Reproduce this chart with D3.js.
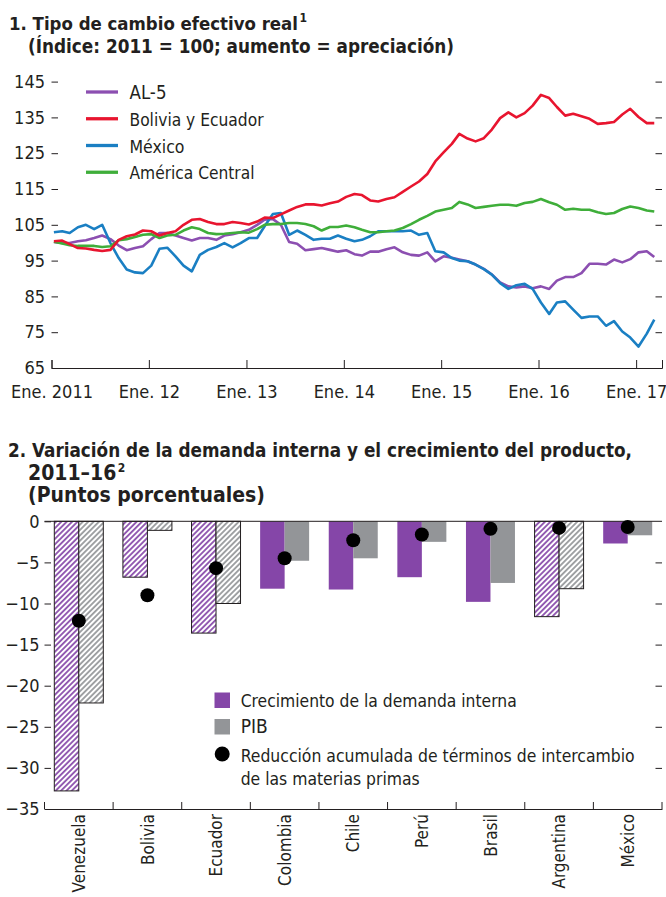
<!DOCTYPE html>
<html><head><meta charset="utf-8">
<script src="https://cdn.jsdelivr.net/npm/d3@7"></script>
<style>
body{margin:0;background:#fff}
text{font-family:'DejaVu Sans Condensed','Liberation Sans Narrow','Arial Narrow',sans-serif;fill:#231f20}
</style>
</head><body>
<svg id="c" width="666" height="897"></svg>
<script>
// ---------- Panel 1 data: monthly index, Jan 2011 – Mar 2017 ----------
const al5 = [100.2,99.9,99.9,100.4,100.7,101.3,102.0,101.0,99.2,97.9,
  98.5,99.0,101.0,102.7,102.7,102.0,101.3,100.6,101.3,101.3,
  100.8,102.0,102.4,102.9,103.6,105.0,106.4,106.6,105.0,100.2,
  99.7,97.9,98.2,98.5,98.0,97.5,97.9,96.8,96.4,97.5,
  97.5,98.2,98.7,97.3,96.6,96.4,97.3,94.8,96.2,95.8,
  95.3,94.8,93.9,92.7,91.1,88.9,87.8,87.5,87.8,87.3,
  87.8,87.1,89.4,90.4,90.4,91.5,94.1,94.1,93.9,95.3,
  94.5,95.4,97.3,97.6,96.0];
const boliviaEcuador = [100.4,100.6,99.6,98.5,98.4,98.0,97.7,98.0,100.8,101.8,
  102.3,103.4,103.2,102.0,102.7,103.2,105.0,106.4,106.6,105.8,
  105.2,105.2,105.8,105.5,105.1,105.9,107.0,106.9,107.9,109.0,
  110.0,110.7,110.7,110.4,111.0,111.5,112.8,113.6,113.3,111.8,
  111.5,112.2,112.7,114.2,115.7,117.1,119.2,122.7,125.2,127.6,
  130.4,129.1,128.3,129.2,131.6,134.8,136.4,135.0,136.2,138.3,
  141.3,140.4,137.9,135.5,136.0,135.3,134.6,133.2,133.4,133.7,
  135.8,137.4,135.1,133.4,133.4];
const mexico = [102.9,103.2,102.7,104.3,105.0,103.8,105.0,99.9,95.7,92.5,
  91.7,91.5,93.6,98.3,98.6,96.2,93.6,92.0,96.6,98.0,
  98.8,99.9,98.7,99.9,101.3,101.3,104.6,108.0,108.3,102.2,
  103.4,102.2,100.8,101.1,101.1,102.0,101.1,100.4,100.8,101.8,
  103.2,103.2,103.2,103.2,103.4,102.2,102.7,97.6,97.3,95.7,
  95.0,94.8,93.9,92.6,91.1,88.7,87.1,88.1,88.5,87.1,
  83.3,80.1,83.3,83.6,81.3,79.0,79.4,79.4,76.8,78.1,
  75.2,73.5,71.0,74.6,78.5];
const americaCentral = [100.3,99.8,99.3,99.1,99.1,99.1,98.8,99.0,100.7,101.0,
  101.6,102.2,102.4,101.3,102.0,102.2,103.4,104.3,103.8,102.7,
  102.4,102.5,102.7,102.9,102.8,103.8,105.0,105.2,105.2,105.5,
  105.5,105.2,104.6,103.4,104.4,104.4,104.8,104.3,103.6,102.9,
  102.9,103.2,103.4,104.1,105.2,106.4,107.5,108.7,109.2,109.7,
  111.4,110.7,109.7,110.0,110.3,110.6,110.6,110.3,111.1,111.4,
  112.2,111.3,110.6,109.2,109.5,109.2,109.2,108.5,108.0,108.3,
  109.4,110.1,109.7,109.0,108.7];
const seriesNames = ["AL-5","Bolivia y Ecuador","México","América Central"];
const yTicks1 = [65,75,85,95,105,115,125,135,145];
const xTickYears = [2011,2012,2013,2014,2015,2016,2017];
const xTickLabels = ["Ene. 2011","Ene. 12","Ene. 13","Ene. 14","Ene. 15","Ene. 16","Ene. 17"];

// ---------- Panel 2 data ----------
const countries = ["Venezuela","Bolivia","Ecuador","Colombia","Chile","Perú","Brasil","Argentina","México"];
const domesticDemand = [-32.8,-6.8,-13.6,-8.2,-8.3,-6.8,-9.8,-11.6,-2.7];
const gdp = [-22.1,-1.1,-10.0,-4.8,-4.5,-2.5,-7.5,-8.2,-1.7];
const termsOfTrade = [-12.1,-9.0,-5.7,-4.5,-2.3,-1.6,-0.9,-0.8,-0.7];
const hatchedCountries = ["Venezuela","Bolivia","Ecuador","Argentina"];
const yTicks2 = [0,-5,-10,-15,-20,-25,-30,-35];
const legend2 = ["Crecimiento de la demanda interna","PIB","Reducción acumulada de términos de intercambio","de las materias primas"];

// ---------- styles ----------
const INK = "#231f20";
const lineColors = ["#8c4fb1","#e8152f","#1a7fc3","#3fae3a"];
const PURPLE = "#8546a8", GRAY = "#939598";

const svg = d3.select("#c");
svg.append("rect").attr("width",666).attr("height",897).attr("fill","#fff");

const defs = svg.append("defs");
function hatch(id,color){
  const p = defs.append("pattern").attr("id",id).attr("patternUnits","userSpaceOnUse")
    .attr("width",3.8).attr("height",3.8).attr("patternTransform","rotate(45)");
  p.append("rect").attr("width",3.8).attr("height",3.8).attr("fill","#fff");
  p.append("line").attr("x1",1.9).attr("x2",1.9).attr("y1",0).attr("y2",3.8)
    .attr("stroke",color).attr("stroke-width",1.7);
}
hatch("hp",PURPLE); hatch("hg",GRAY);

// text with a target width: pick the font size that gives roughly that width, then fit exactly
function fitText(sel, target){
  const n = sel.node();
  const fs = +sel.attr("font-size");
  const w = n.getComputedTextLength();
  if (w > target) sel.attr("font-size", Math.max(fs*target/w, fs*0.86));
  sel.attr("textLength",target).attr("lengthAdjust","spacingAndGlyphs");
  return sel;
}

function title(lines, x0, x1, ys, widths){
  lines.forEach((t,i)=>{
    const xx = i===0?x0:x1;
    const el = svg.append("text").attr("x",xx).attr("y",ys[i])
      .attr("font-size",21).attr("font-weight","bold").text(t.text);
    if (widths[i]) fitText(el, widths[i]);
    if (t.sup){
      const w = widths[i] || el.node().getComputedTextLength();
      svg.append("text").attr("x",xx+w+1.5).attr("y",ys[i]-8)
        .attr("font-size",12).attr("font-weight","bold").text(t.sup);
    }
  });
}

// ================= Panel 1 =================
title([{text:"1. Tipo de cambio efectivo real",sup:"1"},{text:"(Índice: 2011 = 100; aumento = apreciación)"}],
  9, 28, [30,53], [289,426]);

const x1 = d3.scaleTime().domain([new Date(2011,0,1), new Date(2017,3,8)]).range([51.5,662]);
const y1 = d3.scaleLinear().domain([65,145]).range([368,81.6]);
const dates = al5.map((_,i)=>new Date(2011,i,10));

const gx1 = svg.append("g").attr("transform","translate(0,368)")
  .call(d3.axisBottom(x1).tickValues(xTickYears.map(yy=>new Date(yy,0,1)))
    .tickFormat((d,i)=>xTickLabels[i]).tickSizeInner(-8).tickSizeOuter(-8).tickPadding(17));
gx1.attr("font-family",null);
gx1.selectAll("text").attr("font-size",18).attr("fill",INK);
gx1.selectAll("line,path").attr("stroke",INK);

const gy1 = svg.append("g").attr("transform","translate(51.5,0)")
  .call(d3.axisLeft(y1).tickValues(yTicks1).tickSize(-6.5).tickPadding(6.5));
gy1.attr("font-family",null);
gy1.select(".domain").remove();
gy1.selectAll("text").attr("font-size",18).attr("fill",INK);
gy1.selectAll("line").attr("stroke",INK);

const gy1r = svg.append("g").attr("transform","translate(662,0)")
  .call(d3.axisRight(y1).tickValues(yTicks1.slice(1)).tickSize(-6.5).tickFormat(""));
gy1r.select(".domain").remove();
gy1r.selectAll("line").attr("stroke",INK);

const allSeries = [al5, boliviaEcuador, mexico, americaCentral];
const line = d3.line().x((d,i)=>x1(dates[i])).y(d=>y1(d));
[0,2,3,1].forEach(k=>{
  svg.append("path").datum(allSeries[k]).attr("d",line).attr("fill","none")
    .attr("stroke",lineColors[k]).attr("stroke-width",2.6).attr("stroke-linejoin","round");
});

// legend panel 1
const legW1 = [37,134,55,125];
seriesNames.forEach((n,i)=>{
  const yy = 92 + i*26.75;
  svg.append("line").attr("x1",86).attr("x2",118).attr("y1",yy).attr("y2",yy)
    .attr("stroke",lineColors[i]).attr("stroke-width",3.3);
  const t = svg.append("text").attr("x",129.5).attr("y",yy+7).attr("font-size",19).text(n);
  fitText(t, legW1[i]);
});

// ================= Panel 2 =================
title([{text:"2. Variación de la demanda interna y el crecimiento del producto,"},
       {text:"2011–16",sup:"2"},{text:"(Puntos porcentuales)"}],
  8, 28, [457,480,502], [624,null,null]);

const x2 = d3.scaleBand().domain(countries).range([44.5,662]).padding(0);
const xs = d3.scaleBand().domain(["d","g"]).range([9.8,58.8]);
const y2 = d3.scaleLinear().domain([-35,0]).range([809,521.3]);

const gy2 = svg.append("g").attr("transform","translate(44.5,0)")
  .call(d3.axisLeft(y2).tickValues(yTicks2).tickSize(-6.5).tickPadding(5));
gy2.attr("font-family",null);
gy2.select(".domain").remove();
gy2.selectAll("text").attr("font-size",18).attr("fill",INK);
gy2.selectAll("line").attr("stroke",INK);

const gy2r = svg.append("g").attr("transform","translate(662,0)")
  .call(d3.axisRight(y2).tickValues(yTicks2.slice(1,-1)).tickSize(-6.5).tickFormat(""));
gy2r.select(".domain").remove();
gy2r.selectAll("line").attr("stroke",INK);

// bars
const barData = [];
countries.forEach((c,i)=>{
  const h = hatchedCountries.includes(c);
  barData.push({c,k:"d",v:domesticDemand[i],h});
  barData.push({c,k:"g",v:gdp[i],h});
});
svg.append("g").selectAll("rect").data(barData).join("rect")
  .attr("x",d=>x2(d.c)+xs(d.k)).attr("width",xs.bandwidth())
  .attr("y",y2(0)).attr("height",d=>y2(d.v)-y2(0))
  .attr("fill",d=>d.h ? (d.k==="d"?"url(#hp)":"url(#hg)") : (d.k==="d"?PURPLE:GRAY))
  .attr("stroke",d=>d.h?INK:"none").attr("stroke-width",1);

// zero line and bottom axis
svg.append("line").attr("x1",44.5).attr("x2",662).attr("y1",y2(0)).attr("y2",y2(0))
  .attr("stroke",INK).attr("stroke-width",1);
const gx2 = svg.append("g").attr("transform",`translate(0,${y2(-35)})`)
  .call(d3.axisBottom(x2).tickSize(0).tickPadding(0));
gx2.attr("font-family",null);
gx2.select(".domain").attr("stroke",INK);
gx2.selectAll(".tick text").attr("font-size",17).attr("fill",INK)
  .attr("transform","rotate(-90)").attr("text-anchor","end")
  .attr("x",-5).attr("y",0).attr("dy","0.36em");
const bounds = countries.map(c=>x2(c)).concat([x2.range()[1]]);
svg.append("g").selectAll("line").data(bounds).join("line")
  .attr("x1",d=>d).attr("x2",d=>d).attr("y1",y2(-35)).attr("y2",y2(-35)-7)
  .attr("stroke",INK);

// dots
svg.append("g").selectAll("circle").data(countries).join("circle")
  .attr("cx",c=>x2(c)+x2.bandwidth()/2).attr("cy",(c,i)=>y2(termsOfTrade[i]))
  .attr("r",7).attr("fill","#000");

// legend panel 2
svg.append("rect").attr("x",214.5).attr("y",692.5).attr("width",15.5).attr("height",15.5).attr("fill",PURPLE);
svg.append("rect").attr("x",214.5).attr("y",719).attr("width",15.5).attr("height",15.5).attr("fill",GRAY);
svg.append("circle").attr("cx",222.2).attr("cy",754).attr("r",7.5).attr("fill","#000");
const legY2 = [706.5,733,761.5,784.5], legW2 = [276,null,394,179];
legend2.forEach((t,i)=>{
  const el = svg.append("text").attr("x",240.7).attr("y",legY2[i]).attr("font-size",19).text(t);
  if (legW2[i]) fitText(el, legW2[i]);
});
</script>
</body></html>
